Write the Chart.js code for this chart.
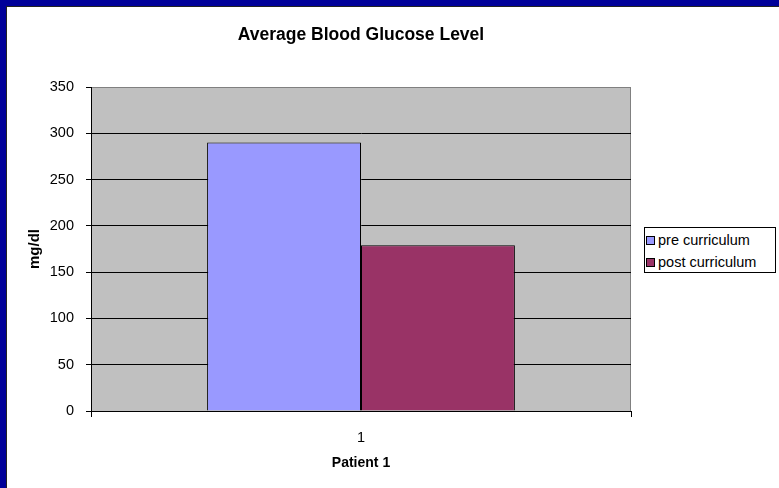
<!DOCTYPE html>
<html>
<head>
<meta charset="utf-8">
<title>Average Blood Glucose Level</title>
<script src="https://cdn.jsdelivr.net/npm/chart.js@4/dist/chart.umd.min.js"></script>
<style>
  html, body { margin: 0; padding: 0; background: #fff; }
  #frame {
    position: absolute; left: 0; top: 0; width: 779px; height: 488px;
    box-sizing: border-box; overflow: hidden; background: #fff;
    border-left: 6px solid #000099; border-top: 6px solid #000099;
  }
  #inner {
    position: absolute; left: 0; top: 0; right: 0; bottom: 0;
    border-left: 1px solid #222; border-top: 1px solid #222;
  }
  #chart { position: absolute; left: 0; top: 0; }
  #legend {
    position: absolute; left: 644px; top: 227px; width: 130px; height: 44px;
    border: 1px solid #000; background: #fff;
    font-family: "Liberation Sans", Arial, sans-serif; font-size: 14.5px; color: #000;
  }
  .item { position: absolute; left: 1px; height: 18px; line-height: 18px; white-space: nowrap; }
  .swatch { display: inline-block; width: 7px; height: 7px; border: 1px solid #000; margin-right: 3px; vertical-align: 0px; }
</style>
</head>
<body>
<div id="frame"><div id="inner"></div></div>
<canvas id="chart" width="779" height="488"></canvas>
<div id="legend"></div>
<script>
// Average Blood Glucose Level - pre / post curriculum

const categories = ['1'];
const seriesNames = ['pre curriculum', 'post curriculum'];
const preValues = [290];
const postValues = [179];
const seriesColors = ['#9999FF', '#993366'];

const yMin = 0;
const yMax = 350;
const yStep = 50;

const FONT = '"Liberation Sans", Arial, sans-serif';

// grey plot background + grey frame like the old spreadsheet chart
const plotArea = {
  id: 'plotArea',
  beforeDraw(chart) {
    const a = chart.chartArea;
    const ctx = chart.ctx;
    ctx.save();
    ctx.fillStyle = '#C0C0C0';
    ctx.fillRect(a.left, a.top, a.right - a.left, a.bottom - a.top);
    ctx.strokeStyle = '#808080';
    ctx.lineWidth = 1;
    ctx.strokeRect(a.left + 0.5, a.top + 0.5, a.right - a.left - 1, a.bottom - a.top);
    ctx.restore();
  }
};

const chart = new Chart(document.getElementById('chart'), {
  type: 'bar',
  data: {
    labels: categories,
    datasets: [
      { label: seriesNames[0], data: preValues, backgroundColor: seriesColors[0], borderColor: '#000', borderWidth: 1 },
      { label: seriesNames[1], data: postValues, backgroundColor: seriesColors[1], borderColor: '#000', borderWidth: 1 }
    ]
  },
  options: {
    responsive: false,
    animation: false,
    datasets: { bar: { categoryPercentage: 0.57, barPercentage: 1 } },
    layout: { padding: { left: 0, right: 148, top: 0, bottom: 0 } },
    plugins: {
      legend: { display: false },
      tooltip: { enabled: false },
      title: {
        display: true,
        text: 'Average Blood Glucose Level',
        fullSize: false,
        color: '#000',
        font: { family: FONT, size: 17.5, weight: 'bold', lineHeight: 1.2 },
        padding: { top: 25, bottom: 41 }
      }
    },
    scales: {
      x: {
        grid: { offset: true, drawOnChartArea: false, color: '#000', tickLength: 6 },
        border: { color: '#000', width: 1 },
        ticks: { color: '#000', font: { family: FONT, size: 14.5 }, padding: 12 },
        title: {
          display: true, text: 'Patient 1', color: '#000',
          font: { family: FONT, size: 14, weight: 'bold', lineHeight: 1.2 },
          padding: { top: 0, bottom: 16 }
        },
        afterFit(s) { s.height = 77; }
      },
      y: {
        min: yMin, max: yMax,
        ticks: { stepSize: yStep, color: '#000', font: { family: FONT, size: 14.5 }, padding: 12 },
        grid: {
          color: (c) => (c.tick && c.tick.value === yMax ? '#808080' : '#000'),
          tickColor: '#000',
          tickLength: 5,
          lineWidth: 1
        },
        border: { color: '#000', width: 1 },
        title: {
          display: true, text: 'mg/dl', color: '#000',
          font: { family: FONT, size: 15, weight: 'bold', lineHeight: 1.2 },
          padding: { top: 26, bottom: 0 }
        },
        afterFit(s) { s.width = 91; }
      }
    }
  },
  plugins: [plotArea]
});

// legend box built from the datasets
const legendEl = document.getElementById('legend');
chart.data.datasets.forEach((ds, i) => {
  const row = document.createElement('div');
  row.className = 'item';
  row.style.top = (3 + i * 22) + 'px';
  const sw = document.createElement('span');
  sw.className = 'swatch';
  sw.style.background = ds.backgroundColor;
  row.appendChild(sw);
  row.appendChild(document.createTextNode(ds.label));
  legendEl.appendChild(row);
});
</script>
</body>
</html>
